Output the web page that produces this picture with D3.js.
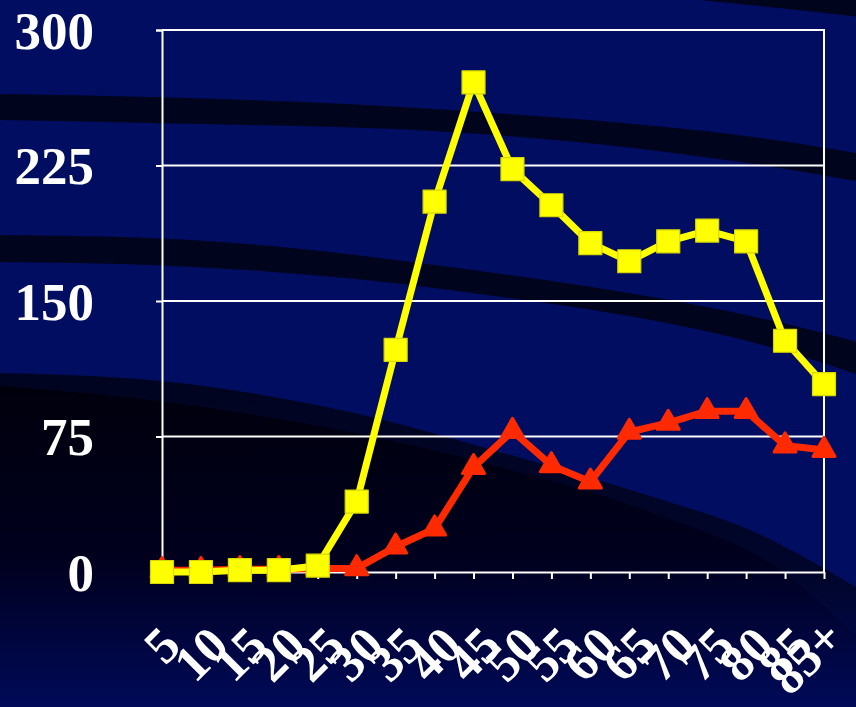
<!DOCTYPE html>
<html>
<head>
<meta charset="utf-8">
<script src="https://cdn.jsdelivr.net/npm/d3@7"></script>
<style>
  html, body { margin: 0; padding: 0; background: #010d60; }
  svg { display: block; }
</style>
</head>
<body>
<svg id="chart" width="856" height="707"></svg>
<script>
// ---- data ----
const categories = ["5","10","15","20","25","30","35","40","45","50","55","60","65","70","75","80","85","85+"];
const yellowValues = [0, 0, 1, 1, 3.5, 39, 123, 205, 271, 223, 203, 182, 172, 183, 189, 183, 128, 104];
const redValues    = [1, 1, 1.5, 1.5, 2, 2, 14, 24, 58, 78, 59, 50, 77.5, 82.5, 89, 89, 70, 67.5];
const yTicks = [0, 75, 150, 225, 300];

const W = 856, H = 707;
const plot = { left: 162, right: 824, top: 30, bottom: 572 };

const svg = d3.select("#chart");

// ---- background ----
const defs = svg.append("defs");
const gInner = defs.append("linearGradient").attr("id", "innerGrad")
  .attr("gradientUnits", "userSpaceOnUse").attr("x1", 0).attr("y1", 380).attr("x2", 0).attr("y2", 707);
gInner.append("stop").attr("offset", 0).attr("stop-color", "#00000c");
gInner.append("stop").attr("offset", 0.55).attr("stop-color", "#00001e");
gInner.append("stop").attr("offset", 1).attr("stop-color", "#000a58");
const gOuter = defs.append("linearGradient").attr("id", "outerGrad")
  .attr("gradientUnits", "userSpaceOnUse").attr("x1", 0).attr("y1", 370).attr("x2", 0).attr("y2", 707);
gOuter.append("stop").attr("offset", 0).attr("stop-color", "#010420");
gOuter.append("stop").attr("offset", 0.6).attr("stop-color", "#01052a");
gOuter.append("stop").attr("offset", 1).attr("stop-color", "#000b5a");

const bg = svg.append("g");
bg.append("rect").attr("width", W).attr("height", H).attr("fill", "#010d60");

const edge = d3.line().curve(d3.curveMonotoneX);
function band(upper, lower) {
  const up = edge(upper);
  const lo = edge(lower.slice().reverse());
  return up + "L" + lo.slice(1) + "Z";
}
// dark curved bands
bg.append("path").attr("fill", "#00041c")
  .attr("d", band([[-5,94],[150,97],[450,110],[850,152],[861,154]],
                  [[-5,120],[150,123],[450,132],[850,180],[861,182]]));
bg.append("path").attr("fill", "#00041c")
  .attr("d", band([[-5,235],[150,238],[450,267],[850,340],[861,343]],
                  [[-5,262],[150,265],[450,290],[850,372],[861,376]]));
bg.append("path").attr("fill", "#00041c")
  .attr("d", band([[560,-20],[700,-12],[861,-2]],
                  [[560,-12],[700,0],[861,17]]));
// bottom-left dark region (outer)
bg.append("path").attr("fill", "url(#outerGrad)")
  .attr("d", band([[-5,373],[160,381],[350,412],[500,452],[650,496],[750,530],[861,590]],
                  [[-5,712],[160,712],[350,712],[500,712],[650,712],[750,712],[861,712]]));
// inner darker region
bg.append("path").attr("fill", "url(#innerGrad)")
  .attr("d", band([[-5,385],[150,400],[350,432],[500,467],[650,512],[780,570],[861,640]],
                  [[-5,712],[150,712],[350,712],[500,712],[650,712],[780,712],[861,712]]));

// ---- scales ----
const x = d3.scalePoint().domain(categories).range([plot.left, plot.right]);
const y = d3.scaleLinear().domain([0, 300]).range([plot.bottom, plot.top]);

const white = "#ffffff";
const fontFamily = "'Liberation Serif', 'Times New Roman', serif";

// gridlines
svg.append("g").selectAll("line").data(yTicks.filter(d => d > 0)).join("line")
  .attr("x1", plot.left).attr("x2", plot.right)
  .attr("y1", d => y(d)).attr("y2", d => y(d))
  .attr("stroke", white).attr("stroke-width", 2);
// right border
svg.append("line").attr("x1", plot.right).attr("x2", plot.right)
  .attr("y1", plot.top - 1).attr("y2", plot.bottom)
  .attr("stroke", white).attr("stroke-width", 2);

// y axis
const yAxis = svg.append("g").attr("transform", `translate(${plot.left},0)`)
  .call(d3.axisLeft(y).tickValues(yTicks).tickSize(6).tickPadding(62).tickFormat(d3.format("d")));
yAxis.select(".domain").attr("stroke", white).attr("stroke-width", 2);
yAxis.selectAll(".tick line").attr("stroke", white).attr("stroke-width", 2);
yAxis.selectAll(".tick text")
  .attr("fill", white).attr("font-family", fontFamily).attr("font-weight", "bold")
  .attr("font-size", 53).attr("dy", "0.34em");

// x axis
const xAxis = svg.append("g").attr("transform", `translate(0,${plot.bottom})`)
  .call(d3.axisBottom(x).tickSize(7).tickSizeOuter(0));
xAxis.select(".domain").attr("stroke", white).attr("stroke-width", 2);
xAxis.selectAll(".tick line").attr("stroke", white).attr("stroke-width", 2);
xAxis.selectAll(".tick text").remove();

// rotated category labels
const labelFont = 51;
const labels = svg.append("g");
categories.forEach(c => {
  const t = labels.append("text")
    .text(c)
    .attr("fill", white).attr("font-family", fontFamily).attr("font-weight", "bold")
    .attr("font-size", labelFont)
    .attr("text-anchor", "middle").attr("dominant-baseline", "central");
  const L = t.node().getComputedTextLength();
  const h = labelFont * 0.68;
  const half = (L + h) * Math.SQRT1_2 / 2;
  const halfEm = (L + labelFont * 1.15) * Math.SQRT1_2 / 2;
  const cx = Math.min(x(c), W - 1 - halfEm);
  const cy = Math.min(624 + half, H - 1 - halfEm);
  t.attr("transform", `translate(${cx},${cy}) rotate(-45)`);
});

// ---- series ----
const line = d3.line().x((d, i) => x(categories[i])).y(d => y(d));

const red = "#ff2a00";
const yellow = "#ffff00";

svg.append("path").datum(redValues).attr("d", line)
  .attr("fill", "none").attr("stroke", red).attr("stroke-width", 7).attr("stroke-linejoin", "round");
svg.append("g").selectAll("path").data(redValues).join("path")
  .attr("d", d3.symbol(d3.symbolTriangle, 210))
  .attr("transform", (d, i) => `translate(${x(categories[i])},${y(d)})`)
  .attr("fill", red).attr("stroke", red).attr("stroke-width", 3).attr("stroke-linejoin", "round");

svg.append("path").datum(yellowValues).attr("d", line)
  .attr("fill", "none").attr("stroke", yellow).attr("stroke-width", 7).attr("stroke-linejoin", "round");
svg.append("g").selectAll("path").data(yellowValues).join("path")
  .attr("d", d3.symbol(d3.symbolSquare, 23 * 23))
  .attr("transform", (d, i) => `translate(${x(categories[i])},${y(d)})`)
  .attr("fill", yellow).attr("stroke", "#d8d800").attr("stroke-width", 1.2).attr("stroke-linejoin", "round");
</script>
</body>
</html>
